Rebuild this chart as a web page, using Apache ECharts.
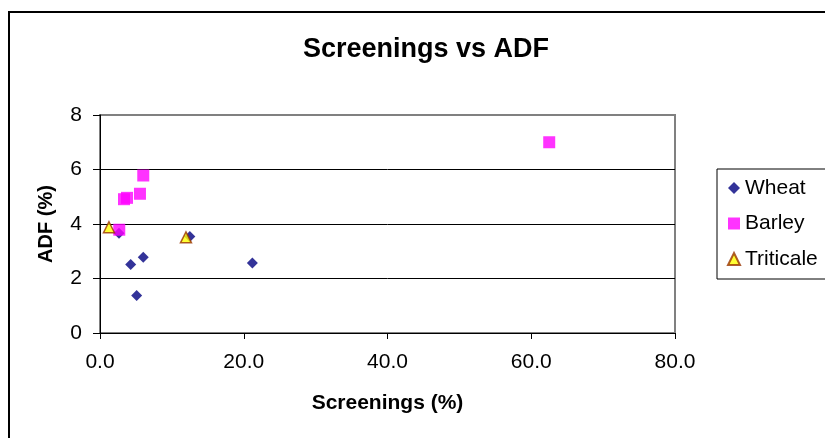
<!DOCTYPE html>
<html>
<head>
<meta charset="utf-8">
<script src="https://cdn.jsdelivr.net/npm/echarts@6/dist/echarts.min.js"></script>
<style>
html,body{margin:0;padding:0;background:#fff;}
#chart{width:825px;height:438px;}
</style>
</head>
<body>
<div id="chart"></div>
<script>
var titleText = 'Screenings vs ADF';
var xAxisTitle = 'Screenings (%)';
var yAxisTitle = 'ADF (%)';
var seriesNames = ['Wheat', 'Barley', 'Triticale'];
var wheatX = [2.64, 4.27, 5.10, 6.02, 12.5, 21.2];
var wheatY = [3.66, 2.51, 1.38, 2.78, 3.54, 2.57];
var barleyX = [2.68, 3.34, 3.76, 5.56, 6.02, 62.5];
var barleyY = [3.79, 4.91, 4.96, 5.11, 5.78, 7.0];
var triticaleX = [1.25, 11.96];
var triticaleY = [3.88, 3.51];
var xTicks = [0, 20, 40, 60, 80];
var yTicks = [0, 2, 4, 6, 8];

function pairs(xs, ys) { return xs.map(function (x, i) { return [x, ys[i]]; }); }

var FONT = "'Liberation Sans', Arial, sans-serif";
var chart = echarts.init(document.getElementById('chart'), null, {renderer: 'canvas'});
chart.setOption({
  animation: false,
  backgroundColor: '#fff',
  graphic: [{
    type: 'rect', z: -10, silent: true,
    shape: {x: 9, y: 12, width: 1000, height: 1000},
    style: {fill: '#fff', stroke: '#000', lineWidth: 2}
  }],
  title: {
    text: titleText, left: 421, top: 31, textAlign: 'center',
    textStyle: {fontFamily: FONT, fontSize: 27, fontWeight: 'bold', color: '#000'}
  },
  grid: {
    left: 100, right: 150, top: 115, bottom: 105, containLabel: false,
    show: true, borderColor: '#808080', borderWidth: 2, backgroundColor: 'transparent'
  },
  legend: {
    orient: 'vertical', left: 717, top: 169,
    padding: [7, 10, 8, 10],
    itemWidth: 12, itemHeight: 12, itemGap: 11.5,
    borderColor: '#000', borderWidth: 1, backgroundColor: '#fff',
    textStyle: {fontFamily: FONT, fontSize: 21, color: '#000', lineHeight: 24},
    data: [
      {name: seriesNames[0], icon: 'diamond'},
      {name: seriesNames[1], icon: 'rect'},
      {name: seriesNames[2], icon: 'triangle'}
    ]
  },
  xAxis: {
    type: 'value', min: xTicks[0], max: xTicks[xTicks.length - 1], interval: 20,
    name: xAxisTitle, nameLocation: 'middle', nameGap: 60,
    nameTextStyle: {fontFamily: FONT, fontSize: 21, fontWeight: 'bold', color: '#000'},
    axisLine: {show: true, onZero: false, lineStyle: {color: '#000', width: 1}},
    axisTick: {show: true, inside: false, length: 6, lineStyle: {color: '#000'}},
    axisLabel: {fontFamily: FONT, fontSize: 21, color: '#000', margin: 19,
      formatter: function (v) { return v.toFixed(1); }},
    splitLine: {show: false}
  },
  yAxis: {
    type: 'value', min: yTicks[0], max: yTicks[yTicks.length - 1], interval: 2,
    name: yAxisTitle, nameLocation: 'middle', nameGap: 44, nameRotate: 90,
    nameTextStyle: {fontFamily: FONT, fontSize: 20, fontWeight: 'bold', color: '#000'},
    axisLine: {show: true, onZero: false, lineStyle: {color: '#000', width: 1}},
    axisTick: {show: true, inside: false, length: 7, lineStyle: {color: '#000'}},
    axisLabel: {fontFamily: FONT, fontSize: 21, color: '#000', margin: 18},
    splitLine: {show: true, lineStyle: {color: ['#000', '#000', '#000', '#000', 'rgba(0,0,0,0)'], width: 1}}
  },
  series: [
    {
      name: seriesNames[0], type: 'scatter', symbol: 'diamond', symbolSize: 11,
      itemStyle: {color: '#000080'}, data: pairs(wheatX, wheatY), z: 2
    },
    {
      name: seriesNames[1], type: 'scatter', symbol: 'rect', symbolSize: 12,
      itemStyle: {color: '#FF00FF'}, data: pairs(barleyX, barleyY), z: 3
    },
    {
      name: seriesNames[2], type: 'scatter', symbol: 'triangle', symbolSize: 11,
      itemStyle: {color: '#FFFF00', borderColor: '#993300', borderWidth: 1.5},
      data: pairs(triticaleX, triticaleY), z: 4
    }
  ]
});
</script>
</body>
</html>
